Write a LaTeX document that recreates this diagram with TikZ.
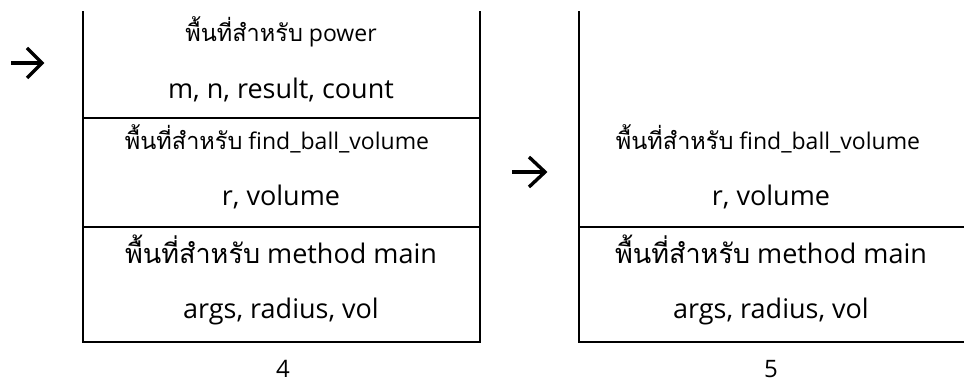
\documentclass[tikz,border=0pt]{standalone}
\usepackage{fontspec}
\setmainfont{Open Sans}
\newfontfamily\thai[Script=Thai]{Loma}
\newcommand{\thsmall}[1]{{\thai\fontsize{23.5}{27}\selectfont #1}}
\newcommand{\thbig}[1]{{\thai\fontsize{27}{31}\selectfont #1}}
\begin{document}
\begin{tikzpicture}[x=1pt,y=-1pt,
  frame/.style={line width=2.5pt, line cap=rect},
  big/.style={font=\fontsize{27}{31}\selectfont, inner sep=0pt, anchor=base},
  small/.style={font=\fontsize{23}{27}\selectfont, inner sep=0pt, anchor=base},
  num/.style={font=\fontsize{24}{28}\selectfont, inner sep=0pt, anchor=base},
  arr/.style={line width=3.4pt, line join=miter}]
\useasboundingbox (0,0) rectangle (964,382);
% left stack frame
\coordinate (LTL) at (83,12);
\coordinate (LTR) at (480,12);
\coordinate (LBL) at (83,342);
\coordinate (LBR) at (480,342);
\coordinate (L1l) at (83,118);
\coordinate (L1r) at (480,118);
\coordinate (L2l) at (83,227);
\coordinate (L2r) at (480,227);
\draw[frame] (LTL) -- (LBL) -- (LBR) -- (LTR);
\draw[frame] (L1l) -- (L1r);
\draw[frame] (L2l) -- (L2r);
% right stack frame
\coordinate (RTL) at (579,12);
\coordinate (RBL) at (579,342);
\coordinate (RBR) at (964,342);
\coordinate (R2l) at (579,227);
\coordinate (R2r) at (964,227);
\draw[frame] (RTL) -- (RBL) -- (RBR);
\draw[frame] (R2l) -- (R2r);
% left texts
\node[small] (lp) at (281,42) {\thsmall{พื้นที่สำหรับ} power};
\node[big] (lpv) at (281,99) {m, n, result, count};
\node[small] (lf) at (277,150) {\thsmall{พื้นที่สำหรับ} find\_ball\_volume};
\node[big] (lfv) at (281,206) {r, volume};
\node[big] (lm) at (281,263) {\thbig{พื้นที่สำหรับ} method main};
\node[big] (lmv) at (281,318) {args, radius, vol};
\node[num] (l4) at (283,377) {4};
% right texts
\node[small] (rf) at (768,150) {\thsmall{พื้นที่สำหรับ} find\_ball\_volume};
\node[big] (rfv) at (771,206) {r, volume};
\node[big] (rm) at (771,263) {\thbig{พื้นที่สำหรับ} method main};
\node[big] (rmv) at (771,318) {args, radius, vol};
\node[num] (r5) at (771,377) {5};
% arrows
\coordinate (a1s) at (11,63);
\coordinate (a1t) at (42,63);
\draw[arr] (a1s) -- (a1t);
\draw[arr] (27,48) -- (a1t) -- (27,78);
\coordinate (a2s) at (512,172);
\coordinate (a2t) at (545,172);
\draw[arr] (a2s) -- (a2t);
\draw[arr] (529,157) -- (a2t) -- (529,187);
\end{tikzpicture}
\end{document}
